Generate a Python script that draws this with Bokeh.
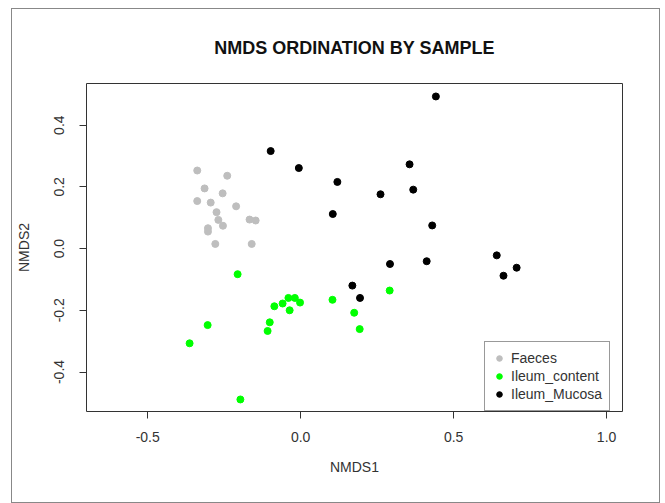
from bokeh.plotting import figure
from bokeh.models import Range1d, FixedTicker, Legend, LegendItem
from bokeh.embed import file_html
from bokeh.resources import INLINE

# ---- data ----
groups = ["Faeces", "Ileum_content", "Ileum_Mucosa"]
colors = ["#BEBEBE", "#00FF00", "#000000"]

faeces_x = [-0.338, -0.240, -0.314, -0.255, -0.338, -0.294, -0.211, -0.275,
            -0.269, -0.167, -0.147, -0.254, -0.303, -0.303, -0.279, -0.160]
faeces_y = [0.253, 0.236, 0.195, 0.179, 0.154, 0.149, 0.137, 0.118,
            0.093, 0.094, 0.091, 0.074, 0.066, 0.055, 0.015, 0.015]

content_x = [-0.206, -0.304, -0.363, -0.197, -0.101, -0.108, -0.086, -0.059,
             -0.040, -0.019, -0.002, -0.036, 0.104, 0.175, 0.193, 0.291]
content_y = [-0.083, -0.248, -0.307, -0.489, -0.239, -0.267, -0.187, -0.178,
             -0.160, -0.160, -0.175, -0.200, -0.166, -0.208, -0.261, -0.136]

mucosa_x = [0.442, -0.098, -0.006, 0.356, 0.120, 0.368, 0.261, 0.105,
            0.430, 0.641, 0.706, 0.663, 0.292, 0.412, 0.169, 0.194]
mucosa_y = [0.493, 0.316, 0.261, 0.273, 0.216, 0.191, 0.176, 0.112,
            0.075, -0.022, -0.062, -0.088, -0.050, -0.041, -0.120, -0.160]

x_ticks = [-0.5, 0.0, 0.5, 1.0]
y_ticks = [-0.4, -0.2, 0.0, 0.2, 0.4]

FONT = "Liberation Sans"
TXT = "#333333"

p = figure(width=649, height=495, output_backend="svg", toolbar_location=None,
           x_range=Range1d(-0.700, 1.052), y_range=Range1d(-0.528, 0.535),
           min_border_left=73, min_border_right=39, min_border_top=74,
           min_border_bottom=93, title="NMDS ORDINATION BY SAMPLE")

p.styles = {"border": "1px solid #888888", "box-sizing": "border-box",
            "margin-left": "11px", "margin-top": "8px"}

p.title.align = "center"
p.title.text_font = FONT
p.title.text_font_size = "18px"
p.title.text_font_style = "bold"
p.title.text_color = "#111111"
p.title.standoff = 52

p.grid.visible = False
p.outline_line_color = "#333333"
p.outline_line_width = 1

for ax in (p.xaxis[0], p.yaxis[0]):
    ax.axis_line_color = None
    ax.major_tick_line_color = "#333333"
    ax.major_tick_out = 7
    ax.major_tick_in = 0
    ax.minor_tick_line_color = None
    ax.major_label_text_font = FONT
    ax.major_label_text_font_size = "14px"
    ax.major_label_text_color = TXT
    ax.axis_label_text_font = FONT
    ax.axis_label_text_font_size = "14px"
    ax.axis_label_text_font_style = "normal"
    ax.axis_label_text_color = TXT

p.xaxis.ticker = FixedTicker(ticks=x_ticks)
p.yaxis.ticker = FixedTicker(ticks=y_ticks)
p.xaxis.major_label_overrides = {t: f"{t:.1f}" for t in x_ticks}
p.yaxis.major_label_overrides = {t: f"{t:.1f}" for t in y_ticks}
p.yaxis.major_label_orientation = "vertical"
p.xaxis.major_label_standoff = 13
p.yaxis.major_label_standoff = 15
p.xaxis.axis_label = "NMDS1"
p.yaxis.axis_label = "NMDS2"
p.xaxis.axis_label_standoff = 14
p.yaxis.axis_label_standoff = 20

series = [(faeces_x, faeces_y), (content_x, content_y), (mucosa_x, mucosa_y)]
items = []
for (xs, ys), name, col in zip(series, groups, colors):
    p.scatter(x=xs, y=ys, size=7, fill_color=col, line_color=col)
    # smaller same-colour copy of the first point, hidden under it, used for the legend key
    key = p.scatter(x=xs[:1], y=ys[:1], size=4, fill_color=col, line_color=col)
    items.append(LegendItem(label=name, renderers=[key]))

legend = Legend(items=items, location=(398, 0), orientation="vertical",
                label_text_font=FONT, label_text_font_size="14px",
                label_text_color=TXT, label_height=18, glyph_height=18,
                glyph_width=14, label_standoff=5, spacing=0, padding=7,
                margin=0, border_line_color="#333333", border_line_width=1,
                background_fill_color="white", background_fill_alpha=1.0)
p.add_layout(legend, "center")

open("out.html", "w").write(file_html(p, INLINE))
